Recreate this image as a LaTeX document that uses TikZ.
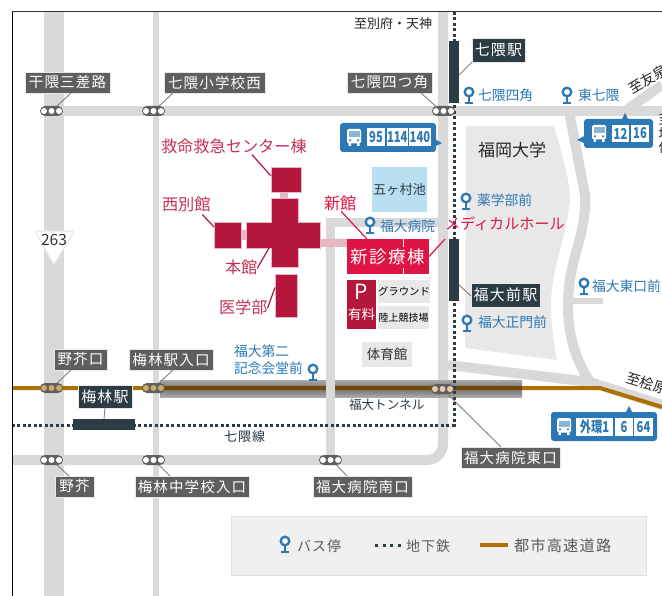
\documentclass[tikz,border=0pt]{standalone}
\usepackage{fontspec}
\usetikzlibrary{calc}
\setmainfont{Noto Sans CJK JP}
\newfontfamily\spf[LetterSpace=8]{Noto Sans CJK JP}
\newfontfamily\busf[FakeStretch=0.75]{Noto Sans CJK JP}
\newcommand\fz[1]{\fontsize{#1}{#1}\selectfont}
\definecolor{road}{HTML}{D9D9D9}
\definecolor{brownway}{HTML}{AE6E00}
\definecolor{subway}{HTML}{2B3C44}
\definecolor{labgray}{HTML}{5F5F5F}
\definecolor{busblue}{HTML}{2B78B5}
\definecolor{crim}{HTML}{B5173C}
\definecolor{crimlab}{HTML}{C43355}
\definecolor{newred}{HTML}{DE1544}
\definecolor{pinklink}{HTML}{E6B8C4}
\definecolor{lake}{HTML}{B9DFF2}
\definecolor{campus}{HTML}{E8E8E8}
\definecolor{tunout}{HTML}{ABABAB}
\definecolor{tunin}{HTML}{6E6E6E}
\tikzset{
  txt/.style={inner sep=0pt,outer sep=0pt,anchor=west,text=#1},
  txt/.default=black,
  graylab/.style={fill=labgray,draw=campus,line width=.4pt,text=white,inner sep=0pt,outer sep=0pt,font=\spf\fz{14.5}},
  darklab/.style={fill=subway,draw=campus,line width=.4pt,text=white,inner sep=0pt,outer sep=0pt,font=\spf\fz{15}},
  capsule/.style={fill=labgray,rounded corners=5pt,minimum width=23pt,minimum height=10pt,inner sep=0pt,outer sep=0pt},
  lead/.style={draw=gray,line width=.9pt},
  redlead/.style={draw=crim,line width=1.2pt},
  newlead/.style={draw=newred,line width=1.2pt},
  plain/.style={inner sep=0pt,outer sep=0pt},
  hosp/.style={fill=crim,draw=pinklink,line width=.5pt},
  roadline/.style={draw=road,line width=#1},
  subline/.style={draw=subway,line width=3pt,dash pattern=on 2.8pt off 2.7pt},
  pinline/.style={draw=busblue,line width=2.3pt},
  busnum/.style={fill=white,inner sep=0pt,outer sep=0pt,text=busblue,font=\busf\bfseries\fz{15}}
}
% rectangle node given by its corners
\newcommand\bx[7]{%
  \pgfmathsetmacro\bw{#4-#2}\pgfmathsetmacro\bh{#5-#3}%
  \node[plain,#6,minimum width=\bw pt,minimum height=\bh pt,anchor=north west] (#1) at (#2,#3) {#7};}
\newcommand\stopm[4]{% name x y dotcolour
  \node[capsule] (#1) at (#2,#3) {};
  \foreach \d in {-7.5,0,7.5} \fill[#4] (#2+\d,#3) circle (3pt);}
\newcommand\pinm[2]{%
  \draw[pinline] (#1,#2+5) -- (#1,#2+11);
  \draw[pinline,line width=1.8pt] (#1-4,#2+11) -- (#1+4,#2+11);
  \draw[pinline,fill=white] (#1,#2) circle (4.3pt);}
\newcommand\busicon[2]{%
  \fill[white,rounded corners=1.5pt] (#1,#2) rectangle (#1+14,#2+14.5);
  \fill[busblue!55!white] (#1+1.5,#2+2.5) rectangle (#1+12.5,#2+8.5);
  \fill[busblue] (#1+3,#2+11.3) circle (1.1pt) (#1+11,#2+11.3) circle (1.1pt);
  \fill[white] (#1+1.5,#2+14) rectangle (#1+4,#2+17) (#1+10,#2+14) rectangle (#1+12.5,#2+17);}
\begin{document}
\begin{tikzpicture}[x=1pt,y=-1pt]
\useasboundingbox (0,0) rectangle (662,596);
\clip (0,0) rectangle (662,596);
\fill[white] (0,0) rectangle (662,596);
% campus
\fill[campus] (466,126) -- (554,126) .. controls (562,155) and (570,180) .. (570,200)
  .. controls (566,240) and (551,270) .. (551,305) .. controls (551,325) and (554,345) .. (557,360) -- (465,348) -- cycle;
% roads
\draw[roadline=20pt] (54,12) -- (54,596);
\draw[roadline=6pt] (156,12) -- (156,596);
\draw[roadline=10pt] (44,111) -- (662,111);
\draw[roadline=10pt,rounded corners=16pt] (12,460) -- (443,460) -- (443,12);
\draw[roadline=10pt] (569,111) -- (585,195) .. controls (587,235) and (568,260) .. (568,305) .. controls (568,335) and (575,360) .. (592,385);
\draw[roadline=6pt] (568,301) -- (603,301);
\draw[roadline=10pt] (448,365) -- (590,382) -- (662,405);
\draw[roadline=10pt] (625,111) -- (662,85);
% tunnel band
\shade[top color=tunout,bottom color=tunin] (160,380) rectangle (522,388.5);
\shade[bottom color=tunout,top color=tunin] (160,388.5) rectangle (522,397);
% highway
\draw[brownway,line width=4pt] (12,388) -- (600,388) -- (662,407);
\draw[brownway!65!black,line width=4.5pt] (160,388) -- (522,388);
% hospital road over the tunnel
\draw[roadline=9pt] (330.5,460) -- (330.5,223) -- (443,223);
% subway
\draw[subline] (454,12) -- (454,425) -- (12,425);
% frame
\draw[black,line width=1pt] (12.5,12) -- (12.5,596);
\draw[black!80,line width=1pt] (12,12) -- (662,12);
% lake and grounds
\bx{lakeb}{372}{167}{427}{212}{fill=lake,text=subway,font=\fz{13.2}}{五ヶ村池}
\bx{ground}{378}{280}{429}{303}{fill=campus,font=\fz{10.4}}{グラウンド}
\bx{track}{378}{306}{429}{329}{fill=campus,font=\fz{10}}{陸上競技場}
\bx{gym}{362}{342}{412}{367}{fill=campus,text=black!80,font=\fz{13.5}}{体育館}
% hospital buildings
\fill[pinklink] (280,192) rectangle (288,198) (241,230) rectangle (246,240) (320,239) rectangle (347,247);
\bx{emerg}{271}{167}{301}{192}{hosp}{}
\bx{west}{214}{222}{241}{248}{hosp}{}
\bx{mainv}{271}{198}{298}{267}{hosp}{}
\bx{mainh}{246}{222}{320}{248}{hosp}{}
\fill[crim] (271.5,221) rectangle (297.5,249);
\bx{med}{275}{274}{297}{317}{hosp}{}
\bx{newb}{347}{239}{429}{274}{fill=newred,text=white,font=\spf\fz{17.5}}{新診療棟}
\draw[white,line width=.7pt] (403,239) -- (403,247) (403,268) -- (403,274);
\bx{park}{347}{280}{376}{329}{fill=crim}{}
\node[plain,text=white,font=\fz{21}] (parkp) at (361.5,292) {P};
\node[plain,text=white,font=\fz{13.5}] (parkf) at (361.5,314) {有料};
% red labels
\node[txt=crimlab,font=\fz{16.2}] (lemerg) at (161,146) {救命救急センター棟};
\node[txt=crimlab,font=\fz{16.2}] (lwest) at (162,204) {西別館};
\node[txt=crimlab,font=\fz{16.2}] (lmain) at (225,267) {本館};
\node[txt=crimlab,font=\fz{16.2}] (lmed) at (219,307) {医学部};
\node[txt=newred,font=\fz{16.2}] (lnew) at (324,203) {新館};
\node[txt=newred,font=\fz{15.1}] (lhall) at (445,224) {メディカルホール};
\draw[redlead] ([xshift=18pt,yshift=-1pt]lemerg.south) -- ([yshift=3.5pt]emerg.west);
\draw[redlead] ([xshift=16pt,yshift=-3pt]lwest.south) -- ([yshift=8pt]west.west);
\draw[redlead] ([xshift=16pt,yshift=6pt]lmain.south) -- ([xshift=-2pt]mainv.south west|-mainh.south);
\draw[redlead] ([yshift=-1pt]lmed.east) -- ([yshift=8pt]med.west);
\draw[newlead] ([xshift=1pt,yshift=-1pt]lnew.south) -- ([xshift=-21pt]newb.north);
\draw[newlead] ([yshift=-8pt]lhall.south west) -- ([yshift=0pt]newb.east);
% station platforms
\bx{ps1}{449}{41}{459}{103}{fill=subway}{}
\bx{ps2}{449}{239}{459}{301}{fill=subway}{}
\bx{ps3}{73}{419}{135}{430}{fill=subway}{}
\bx{ls1}{472}{38}{525}{62}{darklab}{七隈駅}
\bx{ls2}{471}{283}{540}{307}{darklab}{福大前駅}
\bx{ls3}{78}{385}{132}{408}{darklab}{梅林駅}
\draw[lead] ([yshift=-3pt]ps1.east) -- (ls1.south west);
\draw[lead] ([yshift=-15pt]ps2.east) -- ([yshift=-1pt]ls2.west);
\draw[lead] (ls3.south) -- (ps3.north);
% bus stop marks
\stopm{s1}{51.5}{111}{white}
\stopm{s2}{153.5}{111}{white}
\stopm{s3}{443.5}{111}{white}
\stopm{s4}{51.5}{388}{brownway!60!white}
\stopm{s5}{153.5}{388}{brownway!60!white}
\stopm{s6}{442.5}{389}{brownway!35!white}
\stopm{s7}{51.5}{460}{white}
\stopm{s8}{153.5}{460}{white}
\stopm{s9}{330.5}{460}{white}
% stop labels
\bx{l1}{25}{72}{110}{93}{graylab}{干隈三差路}
\bx{l2}{164}{72}{265}{93}{graylab}{七隈小学校西}
\bx{l3}{347}{72}{432}{93}{graylab}{七隈四つ角}
\bx{l4}{54}{349}{107}{370}{graylab}{野芥口}
\bx{l5}{129}{349}{213}{370}{graylab}{梅林駅入口}
\bx{l6}{461}{447}{560}{468}{graylab}{福大病院東口}
\bx{l7}{55}{476}{94}{497}{graylab}{野芥}
\bx{l8}{135}{476}{249}{497}{graylab}{梅林中学校入口}
\bx{l9}{313}{476}{412}{497}{graylab}{福大病院南口}
\draw[lead] ([xshift=46pt]l1.south west) -- ([xshift=5.5pt]s1.north);
\draw[lead] ([xshift=9pt]l2.south west) -- ([xshift=5.5pt]s2.north);
\draw[lead] ([xshift=-11pt]l3.south east) -- ([xshift=-7pt,yshift=-1pt]s3.north);
\draw[lead] ([xshift=17pt]l4.south west) -- ([xshift=5.5pt]s4.north);
\draw[lead] ([xshift=44pt]l5.south west) -- ([xshift=5.5pt]s5.north);
\draw[lead] ([xshift=40pt]l6.north west) -- ([xshift=6pt,yshift=-1pt]s6.south);
\draw[lead] ([xshift=14pt]l7.north west) -- ([xshift=5.5pt]s7.south);
\draw[lead] ([xshift=35pt]l8.north west) -- ([xshift=5.5pt]s8.south);
\draw[lead] ([xshift=34pt]l9.north west) -- ([xshift=6pt]s9.south);
% place names
\node[txt=black!85,font=\fz{13}] (d1) at (354,24) {至別府・天神};
\node[txt=black!85,font=\fz{17}] (d2) at (478,150) {福岡大学};
\node[txt=subway,font=\spf\fz{13}] (d3) at (224,437) {七隈線};
\node[txt=subway,font=\fz{12.6}] (d4) at (349,405) {福大トンネル};
\node[plain,text=black!85,font=\fz{14},rotate=30,anchor=west] (d5) at (630,90) {至友泉};
\node[plain,text=black!85,font=\fz{14},rotate=-17,anchor=west] (d6) at (627,377) {至桧原};
\node[txt=black!85,font=\fz{13}] (d7) at (658.5,120) {至};
\node[txt=black!85,font=\fz{13}] (d8) at (658.5,134) {堤};
\node[txt=black!85,font=\fz{13}] (d9) at (658.5,148) {住};
% bus stop names
\pinm{469}{92}\node[txt=busblue,font=\fz{13.8}] (p1) at (478,95) {七隈四角};
\pinm{567}{92}\node[txt=busblue,font=\fz{13.8}] (p2) at (578,95) {東七隈};
\pinm{466}{198}\node[txt=busblue,font=\fz{13.8}] (p3) at (477,200) {薬学部前};
\pinm{370}{222}\node[txt=busblue,font=\fz{13.8}] (p4) at (380,226) {福大病院};
\pinm{467}{320}\node[txt=busblue,font=\fz{13.8}] (p5) at (478,322) {福大正門前};
\pinm{584}{283}\node[txt=busblue,font=\fz{13.8}] (p6) at (592,286) {福大東口前};
\pinm{313}{369}
\node[txt=busblue,font=\fz{13.8}] (p7) at (234,351) {福大第二};
\node[txt=busblue,font=\fz{13.8}] (p8) at (234,368) {記念会堂前};
% route shield
\draw[draw=road!60!white,fill=white,line width=1.2pt,rounded corners=2pt] (35,231) -- (74,231) -- (54,265) -- cycle;
\node[plain,text=black!80,font=\fz{15.5}] (shield) at (54,240) {263};
% bus boxes
\fill[busblue] (434,139) -- (442,143) -- (434,147) -- cycle;
\fill[busblue] (586,135) -- (577,140) -- (586,144) -- cycle;
\fill[busblue] (621,121) -- (625,113) -- (629,121) -- cycle;
\fill[busblue] (625,414) -- (629,406) -- (633,414) -- cycle;
\bx{b1}{340}{123}{436}{152}{fill=busblue,rounded corners=3pt}{}
\bx{b2}{584}{119}{653}{148}{fill=busblue,rounded corners=3pt}{}
\bx{b3}{551}{412}{657}{441}{fill=busblue,rounded corners=3pt}{}
\busicon{347}{129}\busicon{592}{125}\busicon{557}{418}
\bx{n1}{367}{128}{385}{146}{busnum}{95}
\bx{n2}{387}{128}{407}{146}{busnum}{114}
\bx{n3}{409}{128}{431}{146}{busnum}{140}
\bx{n4}{612}{125}{629}{142}{busnum}{12}
\bx{n5}{631}{125}{649}{142}{busnum}{16}
\bx{n6}{576}{418}{613}{436}{busnum}{外環1}
\bx{n7}{615}{418}{633}{436}{busnum}{6}
\bx{n8}{634}{418}{653}{436}{busnum}{64}
% legend
\bx{legend}{231}{516}{646}{575}{fill=black!6,draw=black!12,line width=.7pt}{}
\pinm{285}{541}
\node[txt=black!65,font=\spf\fz{14}] (k1) at (297,546) {バス停};
\coordinate (kd1) at (375,545);\coordinate (kd2) at (401,545);
\draw[subline,dash pattern=on 3pt off 4.7pt] (kd1) -- (kd2);
\node[txt=black!65,font=\spf\fz{14}] (k2) at (406,546) {地下鉄};
\coordinate (kh1) at (480,545);\coordinate (kh2) at (508,545);
\draw[brownway,line width=4pt] (kh1) -- (kh2);
\node[txt=black!65,font=\spf\fz{15.2}] (k3) at (514,546) {都市高速道路};
\end{tikzpicture}
\end{document}
